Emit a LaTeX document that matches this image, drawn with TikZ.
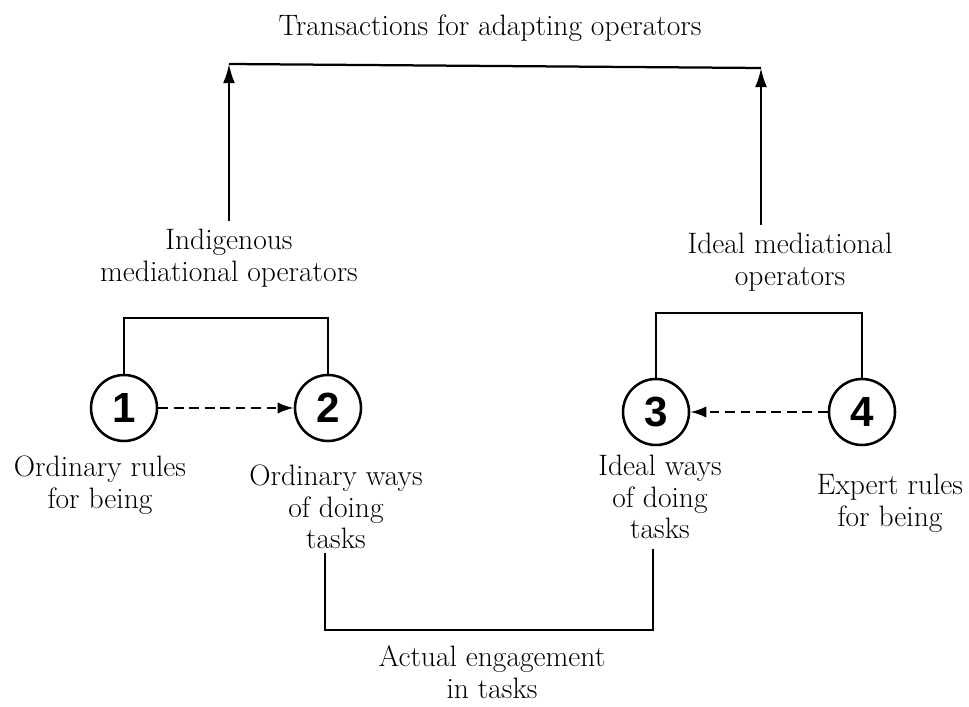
\documentclass[tikz,border=0pt]{standalone}
\usepackage{fontspec}
\setsansfont{Liberation Sans}
\usepackage{tikz}
\usetikzlibrary{arrows.meta,positioning,calc}

\begin{document}
\begin{tikzpicture}[
  x=0.025cm, y=-0.025cm,
  label/.style={align=center, font=\fontsize{21}{22.5}\selectfont, inner sep=0pt},
  stage/.style={circle, draw=black, line width=1.8pt, minimum size=1.65cm, inner sep=0pt, font=\fontsize{30}{30}\selectfont\sffamily\bfseries},
  link/.style={line width=1.6pt, draw=black},
  arrow/.style={-{Latex[length=4.8mm,width=3mm]}, line width=1.6pt, draw=black},
  dasharrow/.style={-{Latex[length=4mm,width=2.8mm]}, line width=1.6pt, dash pattern=on 7pt off 4pt, draw=black}
]
\useasboundingbox (0,0) rectangle (969,707);

% stages
\node[stage] (c1) at (124,408) {1};
\node[stage] (c2) at (328,408) {2};
\node[stage] (c3) at (656,412) {3};
\node[stage] (c4) at (862,412) {4};

% texts
\node[label] (trans) at (490,28) {Transactions for adapting operators};
\node[label] (indig) at (229,258) {Indigenous\\mediational operators};
\node[label] (ideal) at (790,262) {Ideal mediational\\operators};
\node[label] (ordrules) at (100,485) {Ordinary rules\\for being};
\node[label] (ordways) at (336,507) {Ordinary ways\\of doing\\tasks};
\node[label] (idways) at (660,497) {Ideal ways\\of doing\\tasks};
\node[label] (exprules) at (890,503) {Expert rules\\for being};
\node[label] (engage) at (492,672) {Actual engagement\\in tasks};

\coordinate (tl) at (229,64);
\coordinate (tr) at (761,68);
\coordinate (lbr) at (124,318);
\coordinate (rbr) at (656,313);
\coordinate (eng) at (490,630);

% connectors
\draw[link] (tl) -- (tr);
\draw[arrow] ($(indig.north -| tl)+(0,-8)$) -- (tl);
\draw[arrow] ($(ideal.north -| tr)+(0,-8)$) -- (tr);
\draw[link] (c1) -- (lbr) -| (c2);
\draw[link] (c3) -- (rbr) -| (c4);
\draw[dasharrow] (c1) -- (c2);
\draw[dasharrow] (c4) -- (c3);
\draw[link] ($(c2 |- ordways.south)+(-3,4)$) |- (eng) -| ($(c3 |- idways.south)+(-3,10)$);
\end{tikzpicture}
\end{document}
